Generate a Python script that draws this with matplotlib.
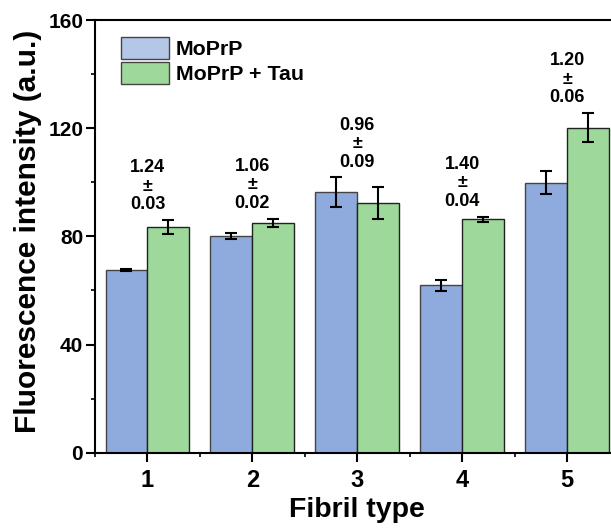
import matplotlib
matplotlib.use("Agg")
import matplotlib.pyplot as plt
from matplotlib.patches import Patch
from matplotlib.ticker import MultipleLocator
import numpy as np

plt.rcParams['font.family'] = ['Liberation Sans', 'DejaVu Sans']
plt.rcParams['font.weight'] = 'bold'

# data
fibril_types = [1, 2, 3, 4, 5]
moprp = [67.6, 80.0, 96.3, 61.9, 99.9]
moprp_err = [0.3, 1.1, 5.5, 2.0, 4.3]
moprp_tau = [83.4, 85.0, 92.3, 86.3, 120.2]
moprp_tau_err = [2.7, 1.6, 6.0, 1.0, 5.4]
ratio_labels = ["1.24\n±\n0.03", "1.06\n±\n0.02", "0.96\n±\n0.09",
                "1.40\n±\n0.04", "1.20\n±\n0.06"]

blue = '#8FAADC'
green = '#9ED89B'
bar_w = 0.4

fig = plt.figure(figsize=(6.11, 5.30), dpi=100)
ax = fig.add_axes([0.1555, 0.1458, 0.8585, 0.8164])

x = np.array(fibril_types, dtype=float)
ax.bar(x - bar_w / 2, moprp, bar_w, color=blue, edgecolor='#444444', linewidth=1.0, zorder=2)
ax.bar(x + bar_w / 2, moprp_tau, bar_w, color=green, edgecolor='#222222', linewidth=1.0, zorder=2)
ax.errorbar(x - bar_w / 2, moprp, yerr=moprp_err, fmt='none', ecolor='black',
            elinewidth=1.5, capsize=4, capthick=1.5, zorder=3)
ax.errorbar(x + bar_w / 2, moprp_tau, yerr=moprp_tau_err, fmt='none', ecolor='black',
            elinewidth=1.5, capsize=4, capthick=1.5, zorder=3)

# ratio annotations above each group
for xi, a, ea, b, eb, lab in zip(x, moprp, moprp_err, moprp_tau, moprp_tau_err, ratio_labels):
    top = max(a + ea, b + eb)
    ax.text(xi, top + 12.5, lab, ha='center', va='center', fontsize=13,
            fontweight='bold', linespacing=1.12)

ax.set_xlim(0.5, 5.5)
ax.set_ylim(0, 160)
ax.set_xticks(fibril_types)
ax.xaxis.set_minor_locator(MultipleLocator(0.5))
ax.yaxis.set_major_locator(MultipleLocator(40))
ax.yaxis.set_minor_locator(MultipleLocator(20))
ax.tick_params(which='major', direction='out', length=6.5, width=1.5)
ax.tick_params(which='minor', direction='out', length=3, width=1.2)
ax.tick_params(axis='x', which='major', labelsize=17, pad=5)
ax.tick_params(axis='y', which='major', labelsize=15, pad=2)
for lbl in ax.get_xticklabels() + ax.get_yticklabels():
    lbl.set_fontweight('bold')
for sp in ax.spines.values():
    sp.set_linewidth(1.5)

ax.set_xlabel("Fibril type", fontsize=20.5, fontweight='bold')
ax.set_ylabel("Fluorescence intensity (a.u.)", fontsize=21.5, fontweight='bold')
ax.xaxis.set_label_coords(0.5, -0.102)
ax.yaxis.set_label_coords(-0.102, 0.511)

handles = [Patch(facecolor='#B4C7E7', edgecolor='#444444', linewidth=1.0),
           Patch(facecolor=green, edgecolor='#444444', linewidth=1.0)]
ax.legend(handles, ["MoPrP", "MoPrP + Tau"], loc='upper left', frameon=False,
          prop={'size': 15.4, 'weight': 'bold'}, handlelength=2.24, handleheight=1.17,
          labelspacing=0.14, handletextpad=0.33, borderaxespad=0, borderpad=0,
          bbox_to_anchor=(0.0496, 0.9607))

fig.savefig("out.png", dpi=100)
